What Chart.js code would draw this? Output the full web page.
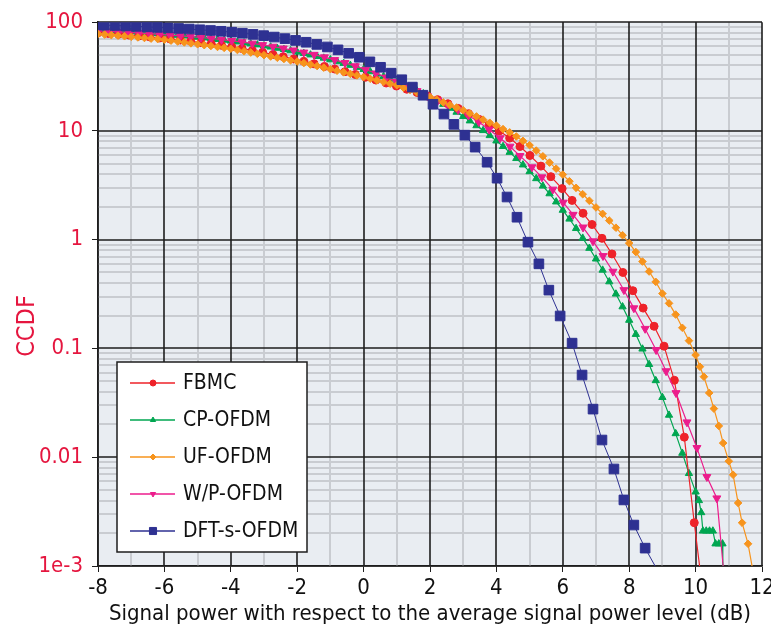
<!DOCTYPE html>
<html>
<head>
<meta charset="utf-8">
<title>CCDF</title>
<script src="https://cdn.jsdelivr.net/npm/chart.js@4.4.1/dist/chart.umd.min.js"></script>
<style>
  html, body { margin: 0; padding: 0; background: #fff; }
  #wrap { width: 771px; height: 633px; }
</style>
</head>
<body>
<div id="wrap"><canvas id="ccdfChart" width="771" height="633"></canvas></div>
<script>
const FONT = "'Liberation Sans Narrow', 'DejaVu Sans Condensed', 'Arial Narrow', sans-serif";
const LABEL_RED = '#e5163f';
const MAJOR_LINE = '#1e1e1e';
const MINOR_LINE = '#c9ccd1';

// axis ticks
const xTicks = [-8, -6, -4, -2, 0, 2, 4, 6, 8, 10, 12];
const yMajor = [0.001, 0.01, 0.1, 1, 10, 100];
const yLabels = ['1e-3', '0.01', '0.1', '1', '10', '100'];
const yMinorSteps = [2, 3, 4, 5, 6, 7, 8, 9];

const seriesNames = ['FBMC', 'CP-OFDM', 'UF-OFDM', 'W/P-OFDM', 'DFT-s-OFDM'];

// shared x grids (dB)
const coarseX = [-8.00, -7.69, -7.38, -7.07, -6.76, -6.45, -6.14, -5.83, -5.52, -5.21,
  -4.90, -4.59, -4.28, -3.97, -3.66, -3.35, -3.04, -2.73, -2.42, -2.11,
  -1.80, -1.49, -1.18, -0.87, -0.56, -0.25, 0.06, 0.37, 0.68, 0.99,
  1.30, 1.61, 1.92, 2.23, 2.54, 2.85, 3.16, 3.47, 3.78];
const fineX = [-8.0, -7.8, -7.6, -7.4, -7.2, -7.0, -6.8, -6.6, -6.4, -6.2,
  -6.0, -5.8, -5.6, -5.4, -5.2, -5.0, -4.8, -4.6, -4.4, -4.2,
  -4.0, -3.8, -3.6, -3.4, -3.2, -3.0, -2.8, -2.6, -2.4, -2.2,
  -2.0, -1.8, -1.6, -1.4, -1.2, -1.0, -0.8, -0.6, -0.4, -0.2,
  0.0, 0.2, 0.4, 0.6, 0.8, 1.0, 1.2, 1.4, 1.6, 1.8,
  2.0, 2.2, 2.4, 2.6, 2.8, 3.0, 3.2, 3.4, 3.6, 3.8,
  4.0, 4.2, 4.4, 4.6, 4.8, 5.0, 5.2, 5.4, 5.6, 5.8,
  6.0, 6.2, 6.4, 6.6, 6.8, 7.0, 7.2, 7.4, 7.6, 7.8,
  8.0, 8.2, 8.4, 8.6, 8.8, 9.0, 9.2, 9.4, 9.6, 9.8, 10.0];

// FBMC
const fbmcX = coarseX.concat([4.09, 4.40, 4.71, 5.01, 5.34, 5.64, 5.98, 6.28, 6.61, 6.88,
  7.18, 7.48, 7.81, 8.11, 8.42, 8.75, 9.05, 9.36, 9.66, 9.96, 10.12]);
const fbmcY = [80, 78.8, 77.5, 76.2, 74.8, 73.3, 71.7, 70.1, 68.5, 66.8,
  65, 63.2, 61.3, 59.3, 57.2, 55, 52.8, 50.5, 48.2, 45.9,
  43.6, 41.4, 39.2, 37.1, 35.1, 33.1, 31.2, 29.4, 27.6, 25.9,
  24.2, 22.6, 21.0, 19.4, 17.8, 16.1, 14.4, 12.8, 11.4,
  10.0, 8.6, 7.2, 5.95, 4.75, 3.8, 2.95, 2.3, 1.75, 1.38,
  1.03, 0.74, 0.5, 0.34, 0.235, 0.16, 0.105, 0.051, 0.0153, 0.0025, 0.001];

// CP-OFDM
const cpX = fineX.concat([10.1, 10.17, 10.22, 10.32, 10.42, 10.52, 10.6, 10.7, 10.81, 10.82]);
const cpY = [85.3, 84.7, 84.0, 83.4, 82.7, 81.9, 81.1, 80.3, 79.5, 78.7,
  77.8, 76.9, 75.9, 74.9, 73.9, 72.9, 71.8, 70.7, 69.5, 68.4,
  67.2, 65.9, 64.6, 63.3, 62.0, 60.6, 59.2, 57.7, 56.2, 54.7,
  53.2, 51.7, 50.1, 48.5, 46.8, 45.2, 43.5, 41.9, 40.2, 38.5,
  36.8, 35.1, 33.4, 31.7, 30.0, 28.4, 26.8, 25.1, 23.6, 22.0,
  20.5, 19.0, 17.6, 16.2, 14.9, 13.6, 12.4, 11.2, 10.1, 9.08,
  8.11, 7.21, 6.37, 5.59, 4.88, 4.23, 3.65, 3.12, 2.65, 2.23,
  1.87, 1.55, 1.27, 1.035, 0.835, 0.666, 0.526, 0.411, 0.317, 0.242,
  0.182, 0.135, 0.099, 0.0714, 0.0507, 0.0355, 0.0244, 0.0165, 0.0109, 0.0071, 0.0048,
  0.004, 0.0031, 0.0021, 0.0021, 0.0021, 0.0021, 0.0016, 0.0016, 0.0016, 0.001];

// UF-OFDM
const ufX = fineX.concat([10.13, 10.25, 10.41, 10.55, 10.70, 10.83, 11.0, 11.13, 11.28, 11.4, 11.58, 11.7]);
const ufY = [78, 77.0, 76.1, 75.2, 74.3, 73.4, 72.5, 71.6, 70.7, 69.9,
  69.0, 67.7, 66.4, 65.2, 63.9, 62.7, 61.5, 60.4, 59.2, 58.1,
  57.0, 55.5, 54.0, 52.6, 51.2, 49.8, 48.4, 47.1, 45.9, 44.6,
  43.5, 42.1, 40.8, 39.5, 38.2, 37.0, 35.8, 34.6, 33.5, 32.4,
  31.3, 30.2, 29.2, 28.2, 27.2, 26.3, 25.0, 23.8, 22.7, 21.6,
  20.5, 19.4, 18.3, 17.3, 16.4, 15.5, 14.5, 13.6, 12.7, 11.9,
  11.2, 10.4, 9.7, 8.9, 8.1, 7.4, 6.6, 5.85, 5.12, 4.5,
  3.97, 3.45, 3.0, 2.62, 2.28, 1.98, 1.73, 1.50, 1.29, 1.10,
  0.93, 0.77, 0.63, 0.51, 0.41, 0.32, 0.26, 0.205, 0.155, 0.118, 0.087,
  0.068, 0.055, 0.039, 0.028, 0.0194, 0.0135, 0.0092, 0.0069, 0.0038, 0.0025, 0.0016, 0.001];

// W/P-OFDM
const wpX = coarseX.concat([4.11, 4.41, 4.71, 5.07, 5.37, 5.70, 6.01, 6.31, 6.61, 6.91,
  7.21, 7.51, 7.84, 8.14, 8.48, 8.81, 9.11, 9.41, 9.74, 10.04, 10.34, 10.64, 10.83]);
const wpY = [83.0, 82.2, 81.4, 80.5, 79.5, 78.5, 77.4, 76.2, 75.0, 73.7,
  72.3, 70.8, 69.2, 67.5, 65.7, 63.8, 61.8, 59.7, 57.5, 55.2,
  52.8, 50.3, 47.7, 45.0, 42.3, 39.5, 36.7, 33.9, 31.1, 28.4,
  25.8, 23.3, 21.0, 19.0, 17.3, 15.6, 13.9, 12.1, 10.3,
  8.6, 7.2, 5.9, 4.65, 3.76, 2.9, 2.2, 1.7, 1.3, 0.97,
  0.71, 0.51, 0.345, 0.235, 0.152, 0.097, 0.062, 0.039, 0.021, 0.0122, 0.0066, 0.0042, 0.001];

// DFT-s-OFDM
const dftX = [-8.13, -7.81, -7.49, -7.17, -6.85, -6.53, -6.21, -5.89, -5.57, -5.25,
  -4.93, -4.61, -4.29, -3.97, -3.65, -3.33, -3.01, -2.69, -2.37, -2.05,
  -1.73, -1.41, -1.09, -0.77, -0.45, -0.13, 0.19, 0.51, 0.83, 1.15,
  1.47, 1.79, 2.09, 2.42, 2.72, 3.05, 3.36, 3.72, 4.02, 4.32,
  4.62, 4.95, 5.28, 5.58, 5.92, 6.28, 6.58, 6.91, 7.18, 7.54,
  7.84, 8.14, 8.48, 8.78];
const dftY = [94.5, 94, 93.3, 92.5, 91.6, 90.6, 89.6, 88.6, 87.6, 86.5,
  85.2, 83.9, 82.5, 81, 79.2, 77.3, 75.2, 73, 70.6, 68,
  65.4, 62.5, 59.2, 55.7, 51.8, 47.6, 43.2, 38.5, 34, 29.6,
  25.3, 21.3, 17.6, 14.3, 11.5, 9.15, 7.1, 5.16, 3.68, 2.47,
  1.61, 0.95, 0.6, 0.344, 0.199, 0.112, 0.057, 0.0277, 0.0144, 0.0078,
  0.00405, 0.00238, 0.00146, 0.001];

const Y_MIN = yMajor[0];
const Y_MAX = yMajor[yMajor.length - 1];

function toPoints(xs, ys) {
  const n = Math.min(xs.length, ys.length);
  const pts = [];
  for (let i = 0; i < n; i++) pts.push({ x: xs[i], y: ys[i] });
  return pts;
}

// no marker where the curve leaves through the bottom axis
function radius(r) {
  return (ctx) => (ctx.raw && ctx.raw.y <= Y_MIN ? 0 : r);
}

function makeSeries(label, xs, ys, color, style, r, rot, order) {
  return {
    label,
    data: toPoints(xs, ys),
    showLine: true,
    borderColor: color,
    backgroundColor: color,
    borderWidth: 1.2,
    pointStyle: style,
    pointRadius: radius(r),
    pointHoverRadius: radius(r),
    pointRotation: rot,
    pointBorderWidth: 1,
    order
  };
}

const datasets = [
  makeSeries(seriesNames[0], fbmcX, fbmcY, '#ee2229', 'circle', 4, 0, 4),
  makeSeries(seriesNames[1], cpX, cpY, '#00a651', 'triangle', 4.2, 0, 5),
  makeSeries(seriesNames[2], ufX, ufY, '#f7941d', 'rectRot', 3.8, 0, 2),
  makeSeries(seriesNames[3], wpX, wpY, '#ec1c8c', 'triangle', 4.6, 180, 3),
  makeSeries(seriesNames[4], dftX, dftY, '#2e3192', 'rect', 6.8, 0, 1)
];
datasets[4].borderWidth = 1.0;

// y tick values: every 1..9 within each decade
const yTickValues = [];
yMajor.forEach((d, i) => {
  yTickValues.push(d);
  if (i < yMajor.length - 1) yMinorSteps.forEach(m => yTickValues.push(+(m * d).toPrecision(3)));
});

const isMajorX = v => xTicks.includes(v);
const isMajorY = v => yMajor.some(m => Math.abs(m - v) < m * 1e-6);

const plotBackground = {
  id: 'plotBackground',
  beforeDraw(chart) {
    const { ctx, chartArea: a } = chart;
    ctx.save();
    ctx.fillStyle = '#e9edf2';
    ctx.fillRect(a.left, a.top, a.right - a.left, a.bottom - a.top);
    ctx.restore();
  }
};

// light minor grid first, dark major grid on top of it
const layeredGrid = {
  id: 'layeredGrid',
  beforeDatasetsDraw(chart) {
    const { ctx, chartArea: a, scales } = chart;
    const xs = scales.x, ys = scales.y;
    ctx.save();
    [false, true].forEach(major => {
      ctx.strokeStyle = major ? MAJOR_LINE : MINOR_LINE;
      ctx.lineWidth = major ? 1.6 : 2;
      ctx.beginPath();
      xs.ticks.forEach(t => {
        if (isMajorX(t.value) !== major) return;
        const px = Math.round(xs.getPixelForValue(t.value));
        ctx.moveTo(px, a.top);
        ctx.lineTo(px, a.bottom);
      });
      ys.ticks.forEach(t => {
        if (isMajorY(t.value) !== major) return;
        const py = Math.round(ys.getPixelForValue(t.value));
        ctx.moveTo(a.left, py);
        ctx.lineTo(a.right, py);
      });
      ctx.stroke();
    });
    ctx.restore();
  }
};

function drawMarker(ctx, ds, x, y, r) {
  ctx.save();
  ctx.fillStyle = ds.backgroundColor;
  ctx.strokeStyle = ds.borderColor;
  ctx.lineWidth = 1;
  if (Chart.helpers && Chart.helpers.drawPoint) {
    Chart.helpers.drawPoint(ctx, { pointStyle: ds.pointStyle, rotation: ds.pointRotation, radius: r, borderWidth: 1 }, x, y);
  } else {
    ctx.beginPath();
    ctx.arc(x, y, r, 0, Math.PI * 2);
    ctx.fill();
  }
  ctx.restore();
}

const boxLegend = {
  id: 'boxLegend',
  afterDraw(chart) {
    const ctx = chart.ctx;
    const left = 117, top = 362, w = 190, h = 190;
    ctx.save();
    ctx.fillStyle = '#ffffff';
    ctx.fillRect(left, top, w, h);
    ctx.strokeStyle = MAJOR_LINE;
    ctx.lineWidth = 1.5;
    ctx.strokeRect(left, top, w, h);
    chart.data.datasets.forEach((ds, i) => {
      const y = top + 21 + i * 37;
      ctx.strokeStyle = ds.borderColor;
      ctx.lineWidth = 1.5;
      ctx.beginPath();
      ctx.moveTo(left + 13, y);
      ctx.lineTo(left + 58, y);
      ctx.stroke();
      drawMarker(ctx, ds, left + 36, y, i === 4 ? 5 : 3);
      ctx.fillStyle = '#111';
      ctx.font = '21px ' + FONT;
      ctx.textAlign = 'left';
      ctx.textBaseline = 'middle';
      ctx.fillText(ds.label, left + 66, y + 1);
    });
    // rotated y title
    ctx.translate(27, 326);
    ctx.rotate(-Math.PI / 2);
    ctx.fillStyle = LABEL_RED;
    ctx.font = '25px ' + FONT;
    ctx.textAlign = 'center';
    ctx.textBaseline = 'middle';
    ctx.fillText('CCDF', 0, 0);
    ctx.restore();
  }
};

const ctx = document.getElementById('ccdfChart').getContext('2d');
const chart = new Chart(ctx, {
  type: 'scatter',
  data: { datasets },
  options: {
    responsive: false,
    devicePixelRatio: 1,
    animation: false,
    layout: { padding: { left: 0, top: 22, right: 9, bottom: 0 } },
    plugins: {
      legend: { display: false },
      tooltip: { enabled: false }
    },
    scales: {
      x: {
        type: 'linear',
        min: -8,
        max: 12,
        afterFit: (scale) => {
          scale.height = 67;
          scale.paddingLeft = 0;
          scale.paddingRight = 0;
        },
        ticks: {
          stepSize: 1,
          autoSkip: false,
          maxRotation: 0,
          padding: 3,
          color: '#111',
          font: { family: FONT, size: 22 },
          callback: (v) => (isMajorX(v) ? String(v) : '')
        },
        grid: {
          drawOnChartArea: false,
          tickColor: (c) => (isMajorX(c.tick.value) ? MAJOR_LINE : 'rgba(0,0,0,0)'),
          tickLength: 6
        },
        border: { color: MAJOR_LINE, width: 1.6 },
        title: {
          display: true,
          text: 'Signal power with respect to the average signal power level (dB)',
          color: '#111',
          font: { family: FONT, size: 22 },
          padding: { top: 0, bottom: 6 }
        }
      },
      y: {
        type: 'logarithmic',
        min: Y_MIN,
        max: Y_MAX,
        afterFit: (scale) => { scale.width = 98; },
        afterBuildTicks: (scale) => { scale.ticks = yTickValues.map(v => ({ value: v })); },
        ticks: {
          autoSkip: false,
          padding: 9,
          color: LABEL_RED,
          font: { family: FONT, size: 22 },
          callback: (v) => {
            const i = yMajor.findIndex(m => Math.abs(m - v) < m * 1e-6);
            return i >= 0 ? yLabels[i] : '';
          }
        },
        grid: {
          drawOnChartArea: false,
          tickColor: (c) => (isMajorY(c.tick.value) ? MAJOR_LINE : 'rgba(0,0,0,0)'),
          tickLength: 6
        },
        border: { color: MAJOR_LINE, width: 1.6 },
        title: { display: false }
      }
    }
  },
  plugins: [plotBackground, layeredGrid, boxLegend]
});
</script>
</body>
</html>
